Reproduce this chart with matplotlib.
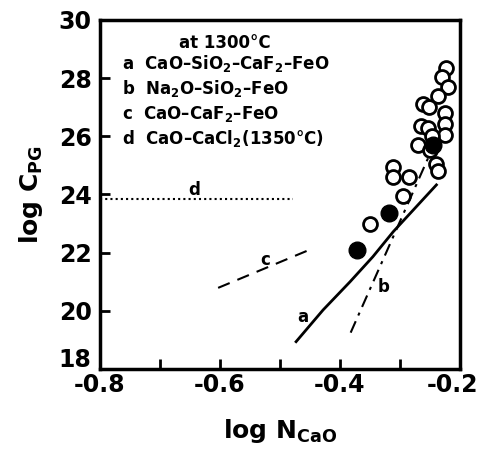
import matplotlib
matplotlib.use('Agg')
import matplotlib.pyplot as plt
from matplotlib.transforms import ScaledTranslation

plt.rcParams['font.family'] = 'DejaVu Sans'
plt.rcParams['font.weight'] = 'bold'
plt.rcParams['axes.labelweight'] = 'bold'
plt.rcParams['mathtext.fontset'] = 'custom'
plt.rcParams['mathtext.rm'] = 'DejaVu Sans:bold'
plt.rcParams['mathtext.it'] = 'DejaVu Sans:bold'
plt.rcParams['mathtext.bf'] = 'DejaVu Sans:bold'

# lines a-d
a_x = [-0.473, -0.428, -0.383, -0.345, -0.311, -0.239]
a_y = [18.94, 20.03, 21.0, 21.86, 22.72, 24.33]
b_x = [-0.382, -0.240]
b_y = [19.25, 25.85]
c_x = [-0.603, -0.447]
c_y = [20.79, 22.13]
d_x = [-0.8, -0.478]
d_y = [23.85, 23.85]

# open circles
open_x = [-0.223, -0.229, -0.220, -0.236, -0.261, -0.251, -0.225, -0.225, -0.265,
          -0.253, -0.225, -0.246, -0.270, -0.250, -0.240, -0.236, -0.312, -0.311,
          -0.285, -0.295, -0.350]
open_y = [28.35, 28.05, 27.69, 27.40, 27.11, 27.00, 26.79, 26.41, 26.37,
          26.29, 26.05, 26.01, 25.69, 25.53, 25.04, 24.82, 24.96, 24.61,
          24.61, 23.96, 23.00]

# filled circles
filled_x = [-0.372, -0.318, -0.245]
filled_y = [22.09, 23.37, 25.70]

legend_lines = ['at 1300°C',
                'a  CaO–SiO$_2$–CaF$_2$–FeO',
                'b  Na$_2$O–SiO$_2$–FeO',
                'c  CaO–CaF$_2$–FeO',
                'd  CaO–CaCl$_2$(1350°C)']

fig = plt.figure(figsize=(4.84, 4.51), dpi=100)
ax = fig.add_axes([0.2066, 0.1818, 0.7434, 0.7739])

ax.plot(a_x, a_y, color='black', lw=2.0, ls='-')
ax.plot(b_x, b_y, color='black', lw=1.5, ls=(0, (6, 3, 1.5, 3)))
ax.plot(c_x, c_y, color='black', lw=1.5, ls=(0, (6, 4)))
ax.plot(d_x, d_y, color='black', lw=1.5, ls=(0, (1, 1.5)))

ax.plot(open_x, open_y, 'o', ms=10, mfc='white', mec='black', mew=2)
ax.plot(filled_x, filled_y, 'o', ms=12, mfc='black', mec='black')

ax.text(-0.462, 19.8, 'a', fontsize=12, ha='center', va='center')
ax.text(-0.327, 20.81, 'b', fontsize=12, ha='center', va='center')
ax.text(-0.525, 21.75, 'c', fontsize=12, ha='center', va='center')
ax.text(-0.643, 24.15, 'd', fontsize=12, ha='center', va='center')

ax.text(-0.592, 29.21, legend_lines[0], fontsize=12, ha='center', va='center')
for i, s in enumerate(legend_lines[1:]):
    ax.text(-0.764, 28.52 - 0.87 * i, s, fontsize=12, ha='left', va='center')

ax.set_xlim(-0.8, -0.2)
ax.set_ylim(18, 30)
ax.set_xticks([-0.8, -0.6, -0.4, -0.2])
ax.set_xticklabels(['-0.8', '-0.6', '-0.4', '-0.2'])
ax.set_xticks([-0.7, -0.5, -0.3], minor=True)
ax.set_yticks([18, 20, 22, 24, 26, 28, 30])
ax.tick_params(axis='both', which='both', direction='in', top=False, right=False,
               width=2, length=7, labelsize=17)
ax.tick_params(axis='y', pad=6)
ax.tick_params(axis='x', pad=3)
for sp in ax.spines.values():
    sp.set_linewidth(2.5)

# lift the bottom y label a little, as in the original
lbl18 = ax.get_yticklabels()[0]
lbl18.set_transform(lbl18.get_transform() + ScaledTranslation(0, 8 / 72, fig.dpi_scale_trans))
# keep the last x label inside the figure
lbl02 = ax.get_xticklabels()[-1]
lbl02.set_transform(lbl02.get_transform() + ScaledTranslation(-5 / 72, 0, fig.dpi_scale_trans))

ax.set_xlabel('log N$_{\\mathrm{CaO}}$', fontsize=18, labelpad=14)
ax.set_ylabel('log C$_{\\mathrm{PG}}$', fontsize=18, labelpad=10)

fig.savefig('out.png', dpi=100)
